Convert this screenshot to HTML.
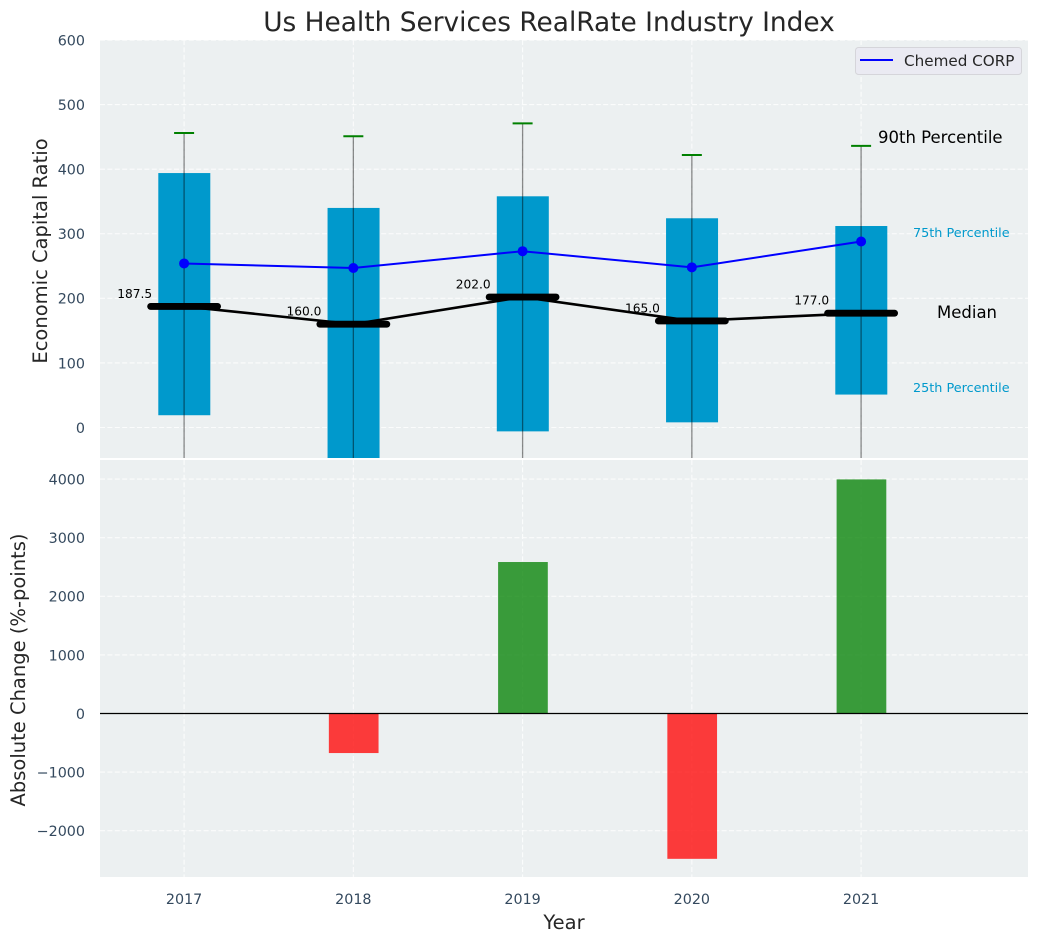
<!DOCTYPE html>
<html>
<head>
<meta charset="utf-8">
<title>Us Health Services RealRate Industry Index</title>
<style>
html,body{margin:0;padding:0;background:#fff;width:1039px;height:942px;overflow:hidden}
svg{display:block;font-family:"DejaVu Sans","Liberation Sans",sans-serif}
</style>
</head>
<body>
<svg id="chart" width="1039" height="942" viewBox="0 0 1039 942" xmlns="http://www.w3.org/2000/svg">
<defs>
<clipPath id="clipTop"><rect x="100" y="40" width="928" height="418"/></clipPath>
<clipPath id="clipBottom"><rect x="100" y="460" width="928" height="417"/></clipPath>
</defs>
<rect x="100" y="40" width="928" height="418" fill="#ecf0f1"/>
<rect x="100" y="460" width="928" height="417" fill="#ecf0f1"/>
<g id="topGrid" opacity="0.8"></g>
<g id="bottomGrid" opacity="0.8"></g>
<g id="topMarks" clip-path="url(#clipTop)"></g>
<g id="bottomMarks" clip-path="url(#clipBottom)"></g>
<g id="axisLabels"></g>
<g id="annotations"></g>
<text x="549" y="31" text-anchor="middle" font-size="26.4" fill="#262626">Us Health Services RealRate Industry Index</text>
<text transform="translate(47,251) rotate(-90)" text-anchor="middle" font-size="19.5" fill="#262626">Economic Capital Ratio</text>
<text transform="translate(25,670) rotate(-90)" text-anchor="middle" font-size="19.5" fill="#262626">Absolute Change (%-points)</text>
<text x="564" y="929" text-anchor="middle" font-size="19.5" fill="#262626">Year</text>
<g>
<rect x="855.5" y="47.5" width="166" height="27" rx="3" fill="#eaeaf2" stroke="#d5d5da" stroke-width="1"/>
<line x1="860" y1="60" x2="893" y2="60" stroke="#0000ff" stroke-width="2"/>
<text x="904" y="66" font-size="15.2" fill="#262626">Chemed CORP</text>
</g>
</svg>
<script>
const years = [2017, 2018, 2019, 2020, 2021];
const p25 = [19, -60, -6, 8, 51];
const p75 = [394, 340, 358, 324, 312];
const p90 = [456, 451, 471, 422, 436];
const p10 = [-150, -150, -150, -150, -150];
const medians = [187.5, 160.0, 202.0, 165.0, 177.0];
const company = [254, 247, 273, 248, 288];
const changes = [0, -675, 2585, -2480, 3995];
const topTicks = [0, 100, 200, 300, 400, 500, 600];
const bottomTicks = [-2000, -1000, 0, 1000, 2000, 3000, 4000];

const NS = 'http://www.w3.org/2000/svg';
const x = v => 184.1 + (v - 2017) * 169.25;
const yTop = v => 427.5 - v * 0.6458;
const yBottom = v => 713.5 - v * 0.0586;
function mk(tag, parent, attrs, content) {
  const el = document.createElementNS(NS, tag);
  for (const k in attrs) el.setAttribute(k, attrs[k]);
  if (content !== undefined) el.textContent = content;
  parent.appendChild(el);
  return el;
}
const topGrid = document.getElementById('topGrid');
const bottomGrid = document.getElementById('bottomGrid');
const topMarks = document.getElementById('topMarks');
const bottomMarks = document.getElementById('bottomMarks');
const axisLabels = document.getElementById('axisLabels');
const annotations = document.getElementById('annotations');
const gridStyle = {stroke: '#ffffff', 'stroke-width': 1.1, 'stroke-dasharray': '5 2.4'};
const tickColor = '#34495e';

topTicks.forEach(t => {
  const g = mk('line', topGrid, Object.assign({x1: 100, x2: 1028, y1: yTop(t), y2: yTop(t)}, gridStyle));
  
  
  const l = mk('text', axisLabels, {x: 85, y: yTop(t) + 5.4, 'text-anchor': 'end', 'font-size': 14.3, fill: tickColor}, String(t));
  
  
});
bottomTicks.forEach(t => {
  const g = mk('line', bottomGrid, Object.assign({x1: 100, x2: 1028, y1: yBottom(t), y2: yBottom(t)}, gridStyle));
  
  
  const l = mk('text', axisLabels, {x: 85, y: yBottom(t) + 5.4, 'text-anchor': 'end', 'font-size': 14.3, fill: tickColor}, String(t).replace('-', '\u2212'));
  
  
});
years.forEach(yr => {
  const a = mk('line', topGrid, Object.assign({x1: x(yr), x2: x(yr), y1: 40, y2: 458}, gridStyle));
  
  
  const b = mk('line', bottomGrid, Object.assign({x1: x(yr), x2: x(yr), y1: 460, y2: 877}, gridStyle));
  
  
  const l = mk('text', axisLabels, {x: x(yr), y: 904, 'text-anchor': 'middle', 'font-size': 14.3, fill: tickColor}, String(yr));
  
  
});

years.forEach((yr, i) => {
  const box = mk('rect', topMarks, {x: x(yr) - 25.8, width: 52, y: yTop(p75[i]), height: yTop(p25[i]) - yTop(p75[i]), fill: '#0099cc'});
  
  
});
const medianPath = mk('polyline', topMarks, {points: years.map((yr, i) => x(yr) + ',' + yTop(medians[i])).join(' '), fill: 'none', stroke: '#000', 'stroke-width': 2.6});


years.forEach((yr, i) => {
  const w = mk('line', topMarks, {x1: x(yr), x2: x(yr), y1: yTop(p90[i]), y2: yTop(p10[i]), stroke: '#000', 'stroke-opacity': 0.45, 'stroke-width': 1.3});
  
  
  const cap = mk('line', topMarks, {x1: x(yr) - 10, x2: x(yr) + 10, y1: yTop(p90[i]), y2: yTop(p90[i]), stroke: '#008000', 'stroke-width': 2});
  
  
  const med = mk('line', topMarks, {x1: x(yr) - 33.5, x2: x(yr) + 33.5, y1: yTop(medians[i]), y2: yTop(medians[i]), stroke: '#000', 'stroke-width': 6.8, 'stroke-linecap': 'round'});
  
  
  const lab = mk('text', annotations, {x: x(yr) - 32, y: yTop(medians[i]) - 8.5, 'text-anchor': 'end', 'font-size': 12.2, fill: '#000'}, medians[i].toFixed(1));
  
  
});
const companyLine = mk('polyline', topMarks, {points: years.map((yr, i) => x(yr) + ',' + yTop(company[i])).join(' '), fill: 'none', stroke: '#0000ff', 'stroke-width': 2});


years.forEach((yr, i) => {
  const d = mk('circle', topMarks, {cx: x(yr), cy: yTop(company[i]), r: 5, fill: '#0000ff'});
  
  
});
years.forEach((yr, i) => {
  if (!changes[i]) return;
  const y0 = yBottom(Math.max(changes[i], 0));
  const y1 = yBottom(Math.min(changes[i], 0));
  const bar = mk('rect', bottomMarks, {x: x(yr) - 24.5, width: 49.7, y: y0, height: y1 - y0, fill: changes[i] > 0 ? '#008000' : '#ff0000', 'fill-opacity': 0.76});
  
  
});
const zero = mk('line', bottomMarks, {x1: 100, x2: 1028, y1: yBottom(0), y2: yBottom(0), stroke: '#000', 'stroke-width': 1.2});



const a90 = mk('text', annotations, {x: 878, y: 143, 'font-size': 16.5, fill: '#000'}, '90th Percentile');


const a75 = mk('text', annotations, {x: 913, y: 237, 'font-size': 12.8, fill: '#0099cc'}, '75th Percentile');


const aMed = mk('text', annotations, {x: 937, y: 318, 'font-size': 16.5, fill: '#000'}, 'Median');


const a25 = mk('text', annotations, {x: 913, y: 392, 'font-size': 12.8, fill: '#0099cc'}, '25th Percentile');


</script>
</body>
</html>
